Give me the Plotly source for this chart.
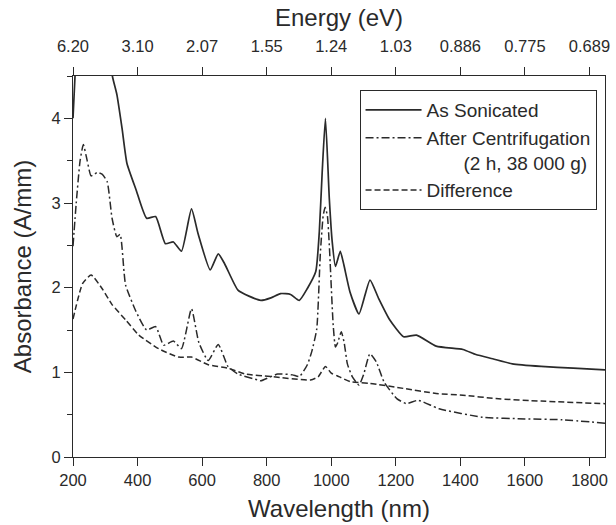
import plotly.graph_objects as go

# ---------------- data ----------------
wl_son = [200, 205, 210, 215, 300, 322, 336, 352, 367, 395, 428, 456, 486, 511, 536, 567, 588,
          625, 650, 670, 711, 745, 782, 813, 843, 874, 901, 926, 952, 963, 972, 982, 994, 1003,
          1013, 1028, 1039, 1058, 1086, 1120, 1147, 1181, 1224, 1264, 1325, 1408, 1448, 1500,
          1561, 1650, 1750, 1848]
son = [4.0, 4.4, 4.8, 5.2, 5.2, 4.5, 4.28, 3.88, 3.47, 3.16, 2.82, 2.84, 2.52, 2.54, 2.43, 2.93, 2.63,
       2.21, 2.40, 2.28, 1.97, 1.90, 1.85, 1.88, 1.93, 1.92, 1.85, 1.99, 2.19, 2.66, 3.37, 4.0, 3.05, 2.54,
       2.25, 2.43, 2.27, 1.95, 1.69, 2.09, 1.87, 1.62, 1.42, 1.44, 1.31, 1.27, 1.21, 1.16,
       1.10, 1.07, 1.05, 1.03]

wl_cen = [200, 210, 222, 232, 244, 256, 275, 290, 306, 321, 336, 346, 358, 363, 395, 428, 456, 481,
          511, 536, 567, 590, 619, 650, 680, 711, 772, 782, 834, 880, 901, 926, 940, 955, 966, 975,
          981, 988, 994, 1006, 1013, 1020, 1031, 1040, 1050, 1065, 1086, 1100, 1120, 1140, 1163,
          1203, 1233, 1269, 1334, 1469, 1600, 1715, 1848]
cen = [2.49, 3.0, 3.5, 3.69, 3.5, 3.32, 3.36, 3.34, 3.25, 2.82, 2.60, 2.63, 2.19, 2.03, 1.72, 1.50, 1.54, 1.32,
       1.37, 1.28, 1.75, 1.35, 1.14, 1.33, 1.07, 0.98, 0.91, 0.90, 0.98, 0.97, 0.95, 1.09, 1.25, 1.51, 2.39, 2.85,
       2.95, 2.85, 2.5, 1.56, 1.3, 1.35, 1.48, 1.35, 1.1, 0.95, 0.85, 0.97, 1.22, 1.12, 0.89,
       0.69, 0.63, 0.67, 0.57, 0.47, 0.45, 0.44, 0.40]

wl_dif = [200, 230, 256, 290, 321, 363, 404, 465, 527, 567, 619, 680, 733, 813, 936, 960, 982, 1000,
          1018, 1059, 1120, 1224, 1325, 1408, 1510, 1650, 1848]
dif = [1.63, 2.05, 2.15, 1.99, 1.80, 1.62, 1.44, 1.28, 1.18, 1.18, 1.09, 1.05, 0.98, 0.95, 0.91, 0.95, 1.07, 0.99,
       0.96, 0.89, 0.87, 0.81, 0.75, 0.73, 0.69, 0.66, 0.63]

wl_ticks = [200, 400, 600, 800, 1000, 1200, 1400, 1600, 1800]
energy_labels = ["6.20", "3.10", "2.07", "1.55", "1.24", "1.03", "0.886", "0.775", "0.689"]
y_ticks = [0, 1, 2, 3, 4]

# ---------------- figure ----------------
FONT = "Liberation Sans, Arial, sans-serif"
INK = "#2a2a2a"

fig = go.Figure()
fig.add_trace(go.Scatter(x=wl_son, y=son, mode="lines", name="As Sonicated",
                         line=dict(color=INK, width=1.7, shape="spline", smoothing=0.5)))
fig.add_trace(go.Scatter(x=wl_cen, y=cen, mode="lines",
                         name="After Centrifugation<br>" + "&nbsp;" * 7 + "(2 h, 38 000 g)",
                         line=dict(color=INK, width=1.5, dash="8px,3px,2px,3px", shape="spline", smoothing=0.5)))
fig.add_trace(go.Scatter(x=wl_dif, y=dif, mode="lines", name="Difference",
                         line=dict(color=INK, width=1.5, dash="6px,3px", shape="spline", smoothing=0.5)))
# invisible trace to activate the top (energy) axis
fig.add_trace(go.Scatter(x=[wl_ticks[0], wl_ticks[-1]], y=[None, None], xaxis="x2", showlegend=False,
                         hoverinfo="skip"))

fig.update_layout(
    width=616, height=525,
    margin=dict(l=72.5, r=6, t=76, b=68),
    paper_bgcolor="white", plot_bgcolor="white",
    font=dict(family=FONT, color=INK, size=16),
    showlegend=True,
    legend=dict(x=0.5386, y=0.963, xanchor="left", yanchor="top",
                bordercolor=INK, borderwidth=1, bgcolor="white",
                font=dict(size=19, family=FONT, color=INK), valign="top",
                itemwidth=56, tracegroupgap=0),
    xaxis=dict(range=[200, 1848], tickvals=wl_ticks, ticks="outside", ticklen=8,
               tickcolor=INK, showline=True, linecolor=INK, linewidth=1.2,
               showgrid=False, zeroline=False,
               title=dict(text="Wavelength (nm)", font=dict(size=24), standoff=12),
               tickfont=dict(size=16.5)),
    xaxis2=dict(range=[200, 1848], overlaying="x", side="top", tickvals=wl_ticks,
                ticktext=energy_labels, ticks="outside", ticklen=8, tickcolor=INK,
                ticklabelstandoff=8,
                showline=True, linecolor=INK, linewidth=1.2, showgrid=False, zeroline=False,
                title=dict(text="Energy (eV)", font=dict(size=24), standoff=3),
                tickfont=dict(size=16.5)),
    yaxis=dict(range=[0, 4.5], tickvals=y_ticks, ticks="outside", ticklen=8, tickcolor=INK,
               showline=True, linecolor=INK, linewidth=1.2, mirror=True,
               showgrid=False, zeroline=False,
               minor=dict(dtick=0.5, tick0=0, ticks="outside", ticklen=5, tickcolor=INK, showgrid=False),
               title=dict(text="Absorbance (A/mm)", font=dict(size=24), standoff=13),
               tickfont=dict(size=16.5)),
)

# remove the default page margin so the 616x525 figure fills the window exactly
fig.write_html("out.html", config={"displayModeBar": False},
               post_script="document.body.style.margin='0';document.body.style.overflow='hidden';")
